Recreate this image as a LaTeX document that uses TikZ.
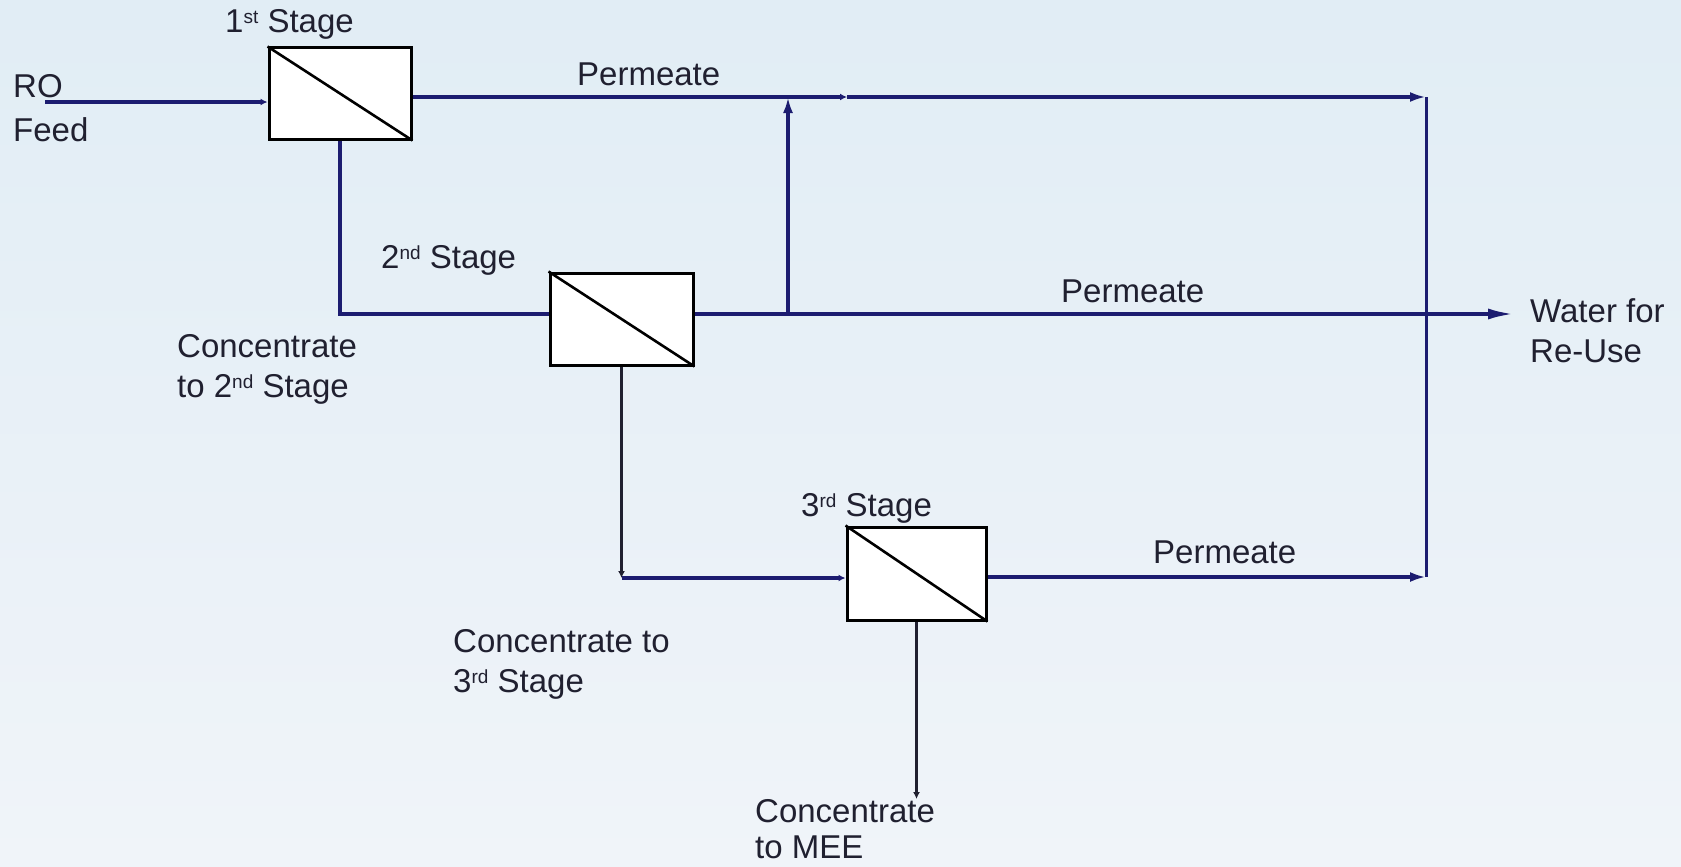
\documentclass[tikz,border=0pt]{standalone}
\usepackage{fontspec}
\setmainfont{Liberation Sans}
\usetikzlibrary{arrows.meta}

\definecolor{flowblue}{RGB}{28,28,112}
\definecolor{inkdark}{RGB}{32,32,48}
\definecolor{bgtop}{RGB}{225,237,245}
\definecolor{bgbot}{RGB}{240,244,249}

% small raised ordinal suffix
\newcommand\ordsup[1]{\raisebox{9pt}{\fontsize{19}{19}\selectfont #1}}

\begin{document}
\begin{tikzpicture}[x=1pt,y=-1pt,
  stagebox/.style={draw=black, line width=3pt, fill=white, inner sep=0pt},
  flow/.style={draw=flowblue, line width=3.5pt},
  conc/.style={draw=inkdark, line width=3pt},
  tipsmall/.style={-{Latex[length=7pt,width=7pt]}},
  tipmid/.style={-{Latex[length=16pt,width=10pt]}},
  tiplong/.style={-{Latex[length=26pt,width=11pt]}},
  lbl/.style={anchor=base west, inner sep=0pt, text=inkdark, align=left,
    font=\fontsize{33}{40}\selectfont},
]
% background
\useasboundingbox (0,0) rectangle (1681,867);
\shade[top color=bgtop, bottom color=bgbot] (0,0) rectangle (1681,867);

% membrane stages
\node[stagebox, minimum width=142pt, minimum height=91pt] (s1) at (340,93.5) {};
\node[stagebox, minimum width=143pt, minimum height=92pt] (s2) at (621.5,319) {};
\node[stagebox, minimum width=139pt, minimum height=93pt] (s3) at (916.5,573.5) {};
\draw[black, line width=2.6pt] (s1.north west) -- (s1.south east);
\draw[black, line width=2.6pt] (s2.north west) -- (s2.south east);
\draw[black, line width=2.6pt] (s3.north west) -- (s3.south east);

% junction points
\coordinate (feed) at (45,102);
\coordinate (m1) at (847,97);
\coordinate (p1) at (1426,97);
\coordinate (j2) at (788,314);
\coordinate (out) at (1514,314);
\coordinate (p3) at (1426,577);
\coordinate (k2) at (621.5,578);
\coordinate (mee) at (916.5,799);

% feed into first stage
\draw[flow, tipsmall] (feed) -- (s1.west |- feed);

% permeate of first stage
\draw[flow, tipsmall] (s1.east |- p1) -- (m1);
\draw[flow, tipmid] (m1) -- (p1);

% concentrate of first stage to second stage
\draw[flow] (s1.south) |- (s2.west |- j2);

% permeate of second stage
\draw[flow, tiplong] (s2.east |- j2) -- (out);
\draw[flow, tipmid] (j2) -- (j2 |- p1);

% concentrate of second stage to third stage
\draw[conc, tipsmall] (s2.south) -- (k2);
\draw[flow, tipsmall] (k2) -- (s3.west |- k2);

% permeate of third stage and collector
\draw[flow, tipmid] (s3.east |- p3) -- (p3);
\draw[flow, line width=3pt] (p1) -- (p3);

% concentrate of third stage
\draw[conc, tipsmall] (s3.south) -- (mee);

% labels (base anchor of a two-line label is the last line's baseline)
\node[lbl] (lro) at (13,97) {RO};
\node[lbl] (lfeed) at (13,141) {Feed};
\node[lbl] (lst1) at (225,33) {1\ordsup{st} Stage};
\node[lbl] (lpm1) at (577,85) {Permeate};
\node[lbl] (lst2) at (381,268) {2\ordsup{nd} Stage};
\node[lbl] (lpm2) at (1061,302) {Permeate};
\node[lbl] (lc2) at (177,397) {Concentrate\\to 2\ordsup{nd} Stage};
\node[lbl] (lwat) at (1530,362) {Water for\\Re-Use};
\node[lbl] (lst3) at (801,516) {3\ordsup{rd} Stage};
\node[lbl] (lpm3) at (1153,563) {Permeate};
\node[lbl] (lc3) at (453,692) {Concentrate to\\3\ordsup{rd} Stage};
\node[lbl, font=\fontsize{33}{36}\selectfont] (lmee) at (755,858) {Concentrate\\to MEE};
\end{tikzpicture}
\end{document}
